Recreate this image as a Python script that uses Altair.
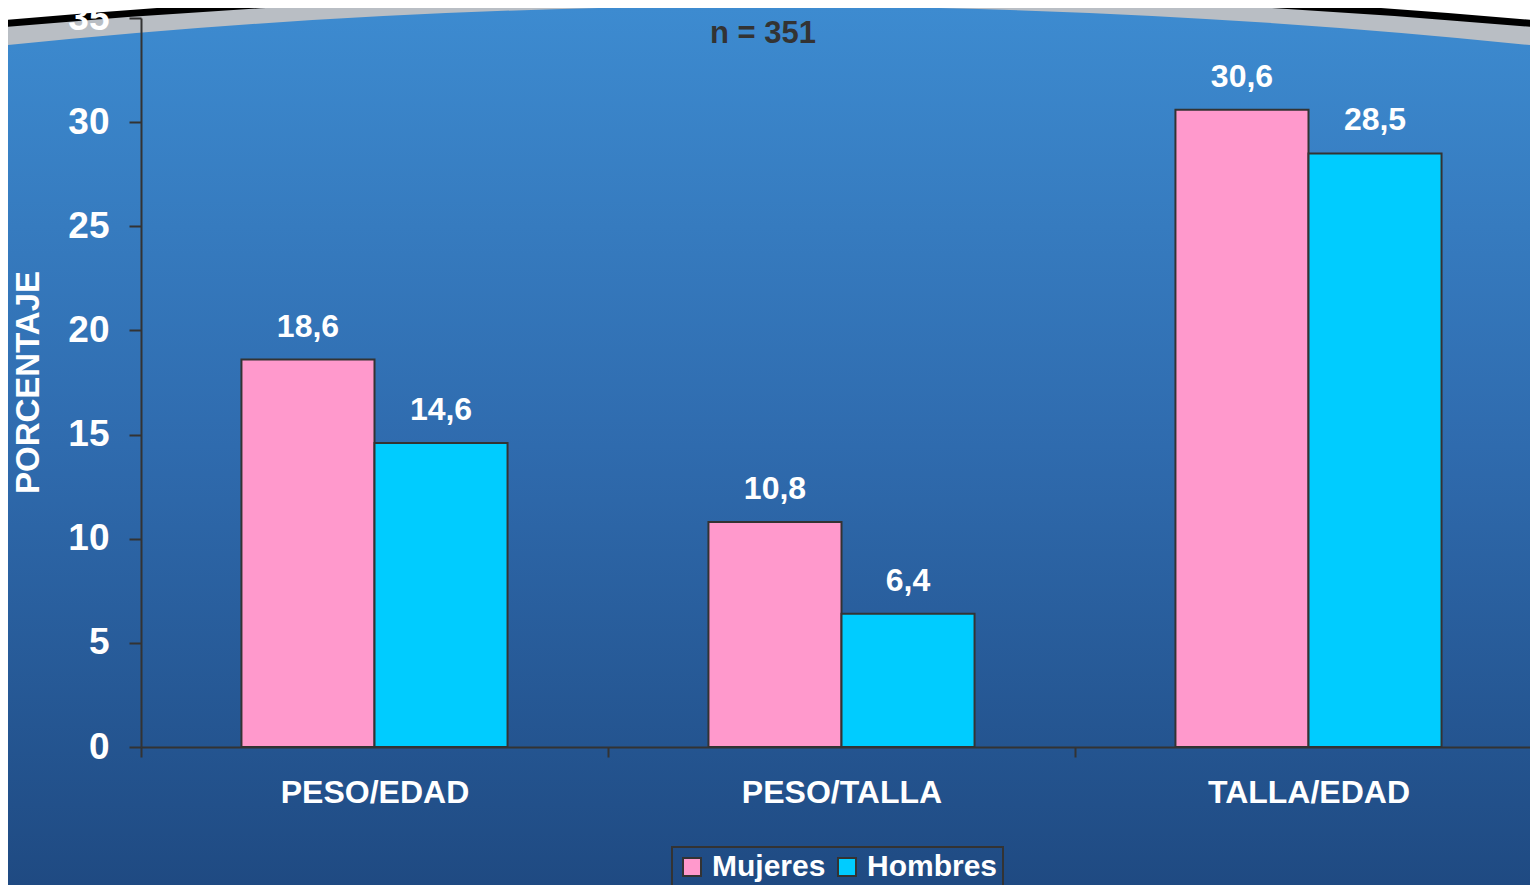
import altair as alt
import pandas as pd

categories = ["PESO/EDAD", "PESO/TALLA", "TALLA/EDAD"]
series = ["Mujeres", "Hombres"]
mujeres = [18.6, 10.8, 30.6]
hombres = [14.6, 6.4, 28.5]
y_ticks = [0, 5, 10, 15, 20, 25, 30, 35]
note = "n = 351"
y_title = "PORCENTAJE"

rows = []
for c, m, h in zip(categories, mujeres, hombres):
    rows.append({"indicador": c, "sexo": "Mujeres", "valor": m, "etiqueta": f"{m:.1f}".replace(".", ",")})
    rows.append({"indicador": c, "sexo": "Hombres", "valor": h, "etiqueta": f"{h:.1f}".replace(".", ",")})
df = pd.DataFrame(rows)
one = pd.DataFrame({"k": [0]})

FONT = "Liberation Sans"
W, H = 1389, 729

x_enc = alt.X(
    "indicador:N", sort=categories,
    scale=alt.Scale(paddingInner=0, paddingOuter=0, range=[0, 1401]),
    axis=alt.Axis(title=None, labelAngle=0, tickBand="extent", tickSize=10,
                  tickColor="#333333", tickWidth=2, domainColor="#333333",
                  domainWidth=2, labelFontSize=32, labelColor="white",
                  labelFontWeight="bold", labelFont=FONT, labelPadding=20,
                  labelLimit=0, grid=False, zindex=1),
)
xo_enc = alt.XOffset("sexo:N", sort=series,
                     scale=alt.Scale(paddingInner=0, paddingOuter=0.755))
y_enc = alt.Y(
    "valor:Q",
    scale=alt.Scale(domain=[0, 35], nice=False),
    axis=alt.Axis(values=y_ticks, tickSize=12, tickColor="#333333", tickWidth=2,
                  domainColor="#333333", domainWidth=2, labelFontSize=37,
                  labelColor="white", labelFontWeight="bold", labelFont=FONT,
                  labelPadding=20, grid=False, title=y_title, titleFontSize=33,
                  titleColor="white", titleFont=FONT, titleFontWeight="bold",
                  titleX=-113, titleY=364, titleAngle=270, titleAlign="center",
                  titleBaseline="middle", zindex=1),
)

bg = alt.Chart(one).mark_rect(
    color=alt.Gradient(
        gradient="linear", x1=0, y1=0, x2=0, y2=1,
        stops=[alt.GradientStop(color="#3D8BD0", offset=0),
               alt.GradientStop(color="#2F6BAE", offset=0.5),
               alt.GradientStop(color="#1F4A82", offset=1)],
    )
).encode(x=alt.value(-133), x2=alt.value(W), y=alt.value(-10), y2=alt.value(H + 138))

gray_path = "M -1 0 Q 0 -0.105 1 0 L 1 -0.4 L -1 -0.4 Z"
black_path = "M -1 0 Q 0 -0.09 1 0 L 1 -0.4 L -1 -0.4 Z"
arc_gray = alt.Chart(one).mark_point(
    shape=gray_path, filled=True, fill="white", stroke="#B9BEC4",
    strokeWidth=22, opacity=1, fillOpacity=1, strokeOpacity=1
).encode(x=alt.value(628), y=alt.value(18), size=alt.value(1560 * 1560))
arc_black = alt.Chart(one).mark_point(
    shape=black_path, filled=True, fill="white", stroke="black",
    strokeWidth=7, opacity=1, fillOpacity=1, strokeOpacity=1
).encode(x=alt.value(628), y=alt.value(7), size=alt.value(1560 * 1560))

bars = alt.Chart(df).mark_bar(stroke="#333333", strokeWidth=2, opacity=1).encode(
    x=x_enc, xOffset=xo_enc, y=y_enc,
    color=alt.Color(
        "sexo:N", sort=series,
        scale=alt.Scale(domain=series, range=["#FF99CC", "#00CCFF"]),
        legend=alt.Legend(title=None, orient="none", legendX=531, legendY=829,
                          direction="horizontal", symbolType="square",
                          symbolSize=324, symbolStrokeColor="#333333",
                          symbolStrokeWidth=2, symbolOpacity=1,
                          labelFontSize=30, labelColor="white",
                          labelFontWeight="bold", labelFont=FONT,
                          labelOffset=5, columnPadding=6, padding=5,
                          strokeColor="#333333"),
    ),
)

labels = alt.Chart(df).mark_text(
    dy=-23, baseline="alphabetic", fontSize=32, fontWeight="bold",
    color="white", font=FONT
).encode(x=alt.X("indicador:N", sort=categories), xOffset=alt.XOffset("sexo:N", sort=series),
         y="valor:Q", text="etiqueta:N")

note_txt = alt.Chart(one).mark_text(
    fontSize=31, fontWeight="bold", color="#333333", font=FONT,
    baseline="alphabetic", align="center"
).encode(x=alt.value(622), y=alt.value(25), text=alt.value(note))

chart = alt.layer(bg, arc_gray, arc_black, bars, labels, note_txt).properties(
    width=W, height=H,
    padding={"left": 133, "top": 10, "right": 0, "bottom": 138},
    autosize=alt.AutoSizeParams(type="none"),
    background="#2F6BAE",
).configure_view(stroke=None).configure_legend(strokeWidth=2)

chart.save("out.html", embed_options={"renderer": "svg", "actions": False})
